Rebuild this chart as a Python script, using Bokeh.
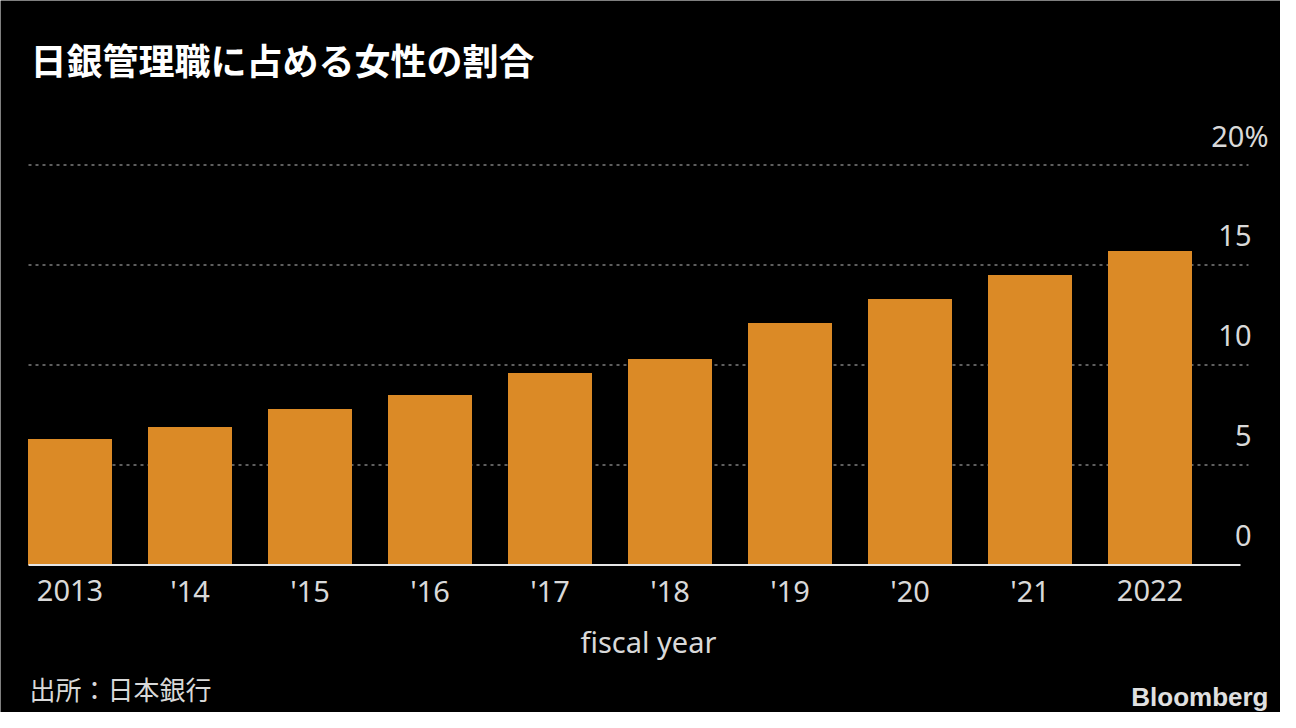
from bokeh.plotting import figure
from bokeh.models import Range1d
from bokeh.core.properties import value
from bokeh.embed import file_html
from bokeh.resources import INLINE

# ---- data ----
years = ["2013", "'14", "'15", "'16", "'17", "'18", "'19", "'20", "'21", "2022"]
share = [6.3, 6.9, 7.8, 8.5, 9.6, 10.3, 12.1, 13.3, 14.5, 15.7]
y_ticks = [0, 5, 10, 15, 20]
y_tick_labels = ["0", "5", "10", "15", "20%"]
title_text = "日銀管理職に占める女性の割合"
x_title = "fiscal year"
source_text = "出所：日本銀行"
brand_text = "Bloomberg"

# ---- style ----
BG = "#000000"
BAR = "#db8a26"
GRID = "#5e5e5e"
TXT = "#d9d9d9"
FONT = "Noto Sans"
CJK = "Noto Sans CJK JP"

W, H = 1280, 712
# layout: pixel position of category 0 centre / value 0 and pixel scale
X0, PXX = 69.5, 120.0
Y0, PXY = 564.5, 20.0
FIX = 12  # baseline correction observed in rendering


def dx(px):
    return (px - X0) / PXX


def dy(py):
    return (Y0 - py) / PXY


idx = list(range(len(years)))

p = figure(width=W, height=H, output_backend="svg", toolbar_location=None,
           x_range=Range1d(dx(0), dx(W)), y_range=Range1d(dy(H), dy(0)),
           min_border=0, x_axis_location=None, y_axis_location=None,
           background_fill_color=BG, border_fill_color=BG, outline_line_color=None)
p.grid.visible = False

# dotted gridlines
grid_vals = y_ticks[1:]
p.segment(x0=[dx(28)] * len(grid_vals), x1=[dx(1248)] * len(grid_vals),
          y0=grid_vals, y1=grid_vals, line_color=GRID, line_width=2, line_dash="3 4")

# bars
p.vbar(x=idx, top=share, bottom=0, width=0.7, fill_color=BAR, line_color=None)

# baseline
p.segment(x0=[dx(28)], x1=[dx(1240)], y0=[0], y1=[0], line_color="#e6e6e6", line_width=2)

# y tick labels (above gridlines, right side)
p.text(x=[dx(1251)] * 4, y=y_ticks[:4], text=y_tick_labels[:4],
       text_align="right", text_baseline="alphabetic", y_offset=-18 - FIX,
       text_font=value(FONT), text_font_size="29px", text_color=TXT)
p.text(x=[dx(1268)], y=y_ticks[4:], text=y_tick_labels[4:],
       text_align="right", text_baseline="alphabetic", y_offset=-18 - FIX,
       text_font=value(FONT), text_font_size="29px", text_color=TXT)

# x tick labels
p.text(x=idx, y=[dy(602 - FIX)] * len(idx), text=years,
       text_align="center", text_baseline="alphabetic",
       text_font=value(FONT), text_font_size="29px", text_color=TXT)

# x axis title
p.text(x=[dx(648)], y=[dy(653 - FIX)], text=[x_title],
       text_align="center", text_baseline="alphabetic",
       text_font=value(FONT), text_font_size="29px", text_color=TXT)

# title
p.text(x=[dx(30)], y=[dy(58)], text=[title_text],
       text_align="left", text_baseline="middle",
       text_font=value(CJK), text_font_size="36px", text_font_style="bold",
       text_color="#ffffff")

# footer
p.text(x=[dx(29)], y=[dy(688)], text=[source_text],
       text_align="left", text_baseline="middle",
       text_font=value(CJK), text_font_size="26px", text_color=TXT)
p.text(x=[dx(1268)], y=[dy(708 - FIX)], text=[brand_text],
       text_align="right", text_baseline="alphabetic",
       text_font=value("Liberation Sans"), text_font_size="26px",
       text_font_style="bold", text_color="#e0e0e0")

open("out.html", "w").write(file_html(p, INLINE))
